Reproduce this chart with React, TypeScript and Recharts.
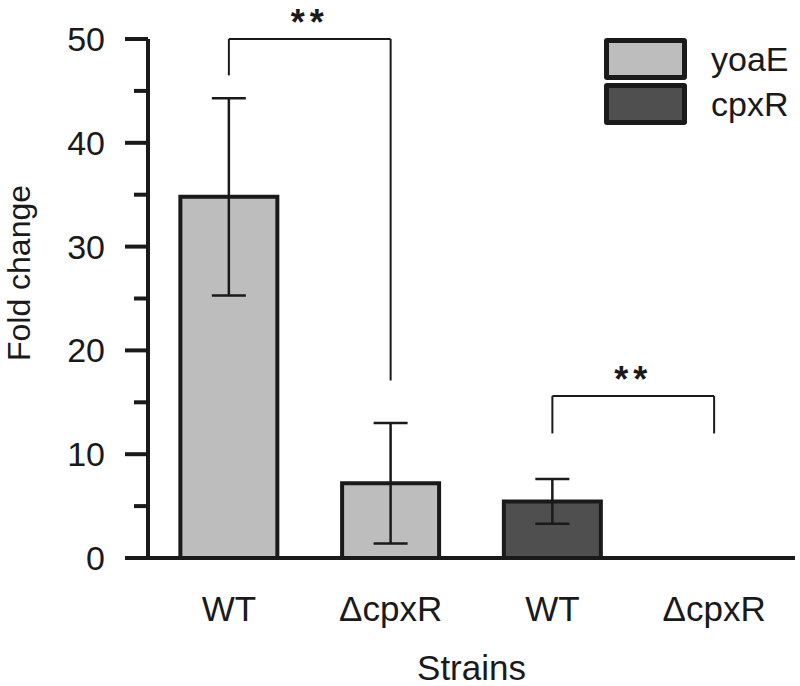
import React from "react";
import {
  BarChart,
  Bar,
  Cell,
  XAxis,
  YAxis,
  ErrorBar,
  Legend,
  ReferenceLine,
} from "recharts";

// one bar per strain/gene combination
const categories = ["WT-yoaE", "dcpxR-yoaE", "WT-cpxR", "dcpxR-cpxR"];
const strainLabels = ["WT", "ΔcpxR", "WT", "ΔcpxR"];
const barGene = ["yoaE", "yoaE", "cpxR", "cpxR"];
const foldChange = [34.8, 7.2, 5.45, 0];
const foldError = [9.5, 5.8, 2.15, 0];

const genes = ["yoaE", "cpxR"];
const geneColors = ["#bdbdbd", "#4f4f4f"];

const yTicks = [0, 5, 10, 15, 20, 25, 30, 35, 40, 45, 50];

// significance brackets: horizontal bar at `top`, legs down to leftEnd / rightEnd
const brackets = [
  { from: "WT-yoaE", to: "dcpxR-yoaE", top: 50, leftEnd: 46.5, rightEnd: 17.1, mark: "**" },
  { from: "WT-cpxR", to: "dcpxR-cpxR", top: 15.6, leftEnd: 12.0, rightEnd: 12.0, mark: "**" },
];

const FONT = '"Liberation Sans", Arial, sans-serif';
const INK = "#1a1a1a";

const data = categories.map((c, i) => ({
  key: c,
  strain: strainLabels[i],
  gene: barGene[i],
  fold: foldChange[i],
  err: foldError[i],
}));

const YTick = (props: any) => {
  const { x, y, payload } = props;
  const major = payload.value % 10 === 0;
  return (
    <g>
      <line x1={x - (major ? 23 : 14)} x2={x} y1={y} y2={y} stroke={INK} strokeWidth={4} />
      {major && (
        <text
          x={x - 43}
          y={y}
          dy={12}
          textAnchor="end"
          fontSize={34}
          fontFamily={FONT}
          fill={INK}
        >
          {payload.value}
        </text>
      )}
    </g>
  );
};

const XTick = (props: any) => {
  const { x, y, payload } = props;
  const idx = categories.indexOf(payload.value);
  return (
    <text x={x} y={y} dy={63} textAnchor="middle" fontSize={35} fontFamily={FONT} fill={INK}>
      {strainLabels[idx]}
    </text>
  );
};

const GeneLegend = () => (
  <div style={{ fontFamily: FONT }}>
    {genes.map((g, i) => (
      <div key={g} style={{ display: "flex", alignItems: "center", marginBottom: 3 }}>
        <div
          style={{
            width: 83,
            height: 42,
            boxSizing: "border-box",
            border: `5px solid ${INK}`,
            borderRadius: 3,
            background: geneColors[i],
          }}
        />
        <span style={{ fontSize: 34, color: INK, marginLeft: 24, lineHeight: "34px" }}>{g}</span>
      </div>
    ))}
  </div>
);

const YLabel = () => {
  const cx = 30;
  const cy = 273;
  return (
    <text
      x={cx}
      y={cy}
      transform={`rotate(-90 ${cx} ${cy})`}
      textAnchor="middle"
      fontSize={32}
      fontFamily={FONT}
      fill={INK}
    >
      Fold change
    </text>
  );
};

export default function App() {
  return (
    <div style={{ position: "absolute", left: 0, top: 0, width: 800, height: 686, background: "#fff" }}>
      <BarChart
        width={800}
        height={686}
        data={data}
        margin={{ top: 39, right: 5, left: 0, bottom: 0 }}
        barCategoryGap="20%"
      >
        <XAxis
          dataKey="key"
          height={128}
          axisLine={{ stroke: INK, strokeWidth: 4 }}
          tickLine={false}
          tickSize={0}
          tickMargin={0}
          tick={<XTick />}
          interval={0}
          label={{
            value: "Strains",
            position: "insideBottom",
            offset: 6,
            fontSize: 35,
            fontFamily: FONT,
            fill: INK,
          }}
        />
        <YAxis
          width={148}
          domain={[0, 50]}
          ticks={yTicks}
          interval={0}
          axisLine={{ stroke: INK, strokeWidth: 4 }}
          tickLine={false}
          tickSize={0}
          tickMargin={0}
          tick={<YTick />}
          label={<YLabel />}
        />
        <Legend
          layout="vertical"
          verticalAlign="middle"
          align="center"
          content={<GeneLegend />}
          wrapperStyle={{ top: 38, left: 604, width: 196 }}
        />
        <Bar dataKey="fold" stroke={INK} strokeWidth={4} isAnimationActive={false}>
          {data.map((d) => (
            <Cell key={d.key} fill={geneColors[genes.indexOf(d.gene)]} />
          ))}
          <ErrorBar dataKey="err" width={17} stroke={INK} strokeWidth={2.5} direction="y" />
        </Bar>
        {brackets.map((b, i) => (
          <ReferenceLine
            key={`h${i}`}
            segment={[
              { x: b.from, y: b.top },
              { x: b.to, y: b.top },
            ]}
            stroke={INK}
            strokeWidth={2}
            ifOverflow="visible"
            label={{
              value: b.mark,
              position: "top",
              offset: 4,
              fontSize: 36,
              fontWeight: "bold",
              letterSpacing: 5,
              fontFamily: FONT,
              fill: INK,
            }}
          />
        ))}
        {brackets.map((b, i) => (
          <ReferenceLine
            key={`l${i}`}
            segment={[
              { x: b.from, y: b.top },
              { x: b.from, y: b.leftEnd },
            ]}
            stroke={INK}
            strokeWidth={2}
            ifOverflow="visible"
          />
        ))}
        {brackets.map((b, i) => (
          <ReferenceLine
            key={`r${i}`}
            segment={[
              { x: b.to, y: b.top },
              { x: b.to, y: b.rightEnd },
            ]}
            stroke={INK}
            strokeWidth={2}
            ifOverflow="visible"
          />
        ))}
      </BarChart>
    </div>
  );
}
